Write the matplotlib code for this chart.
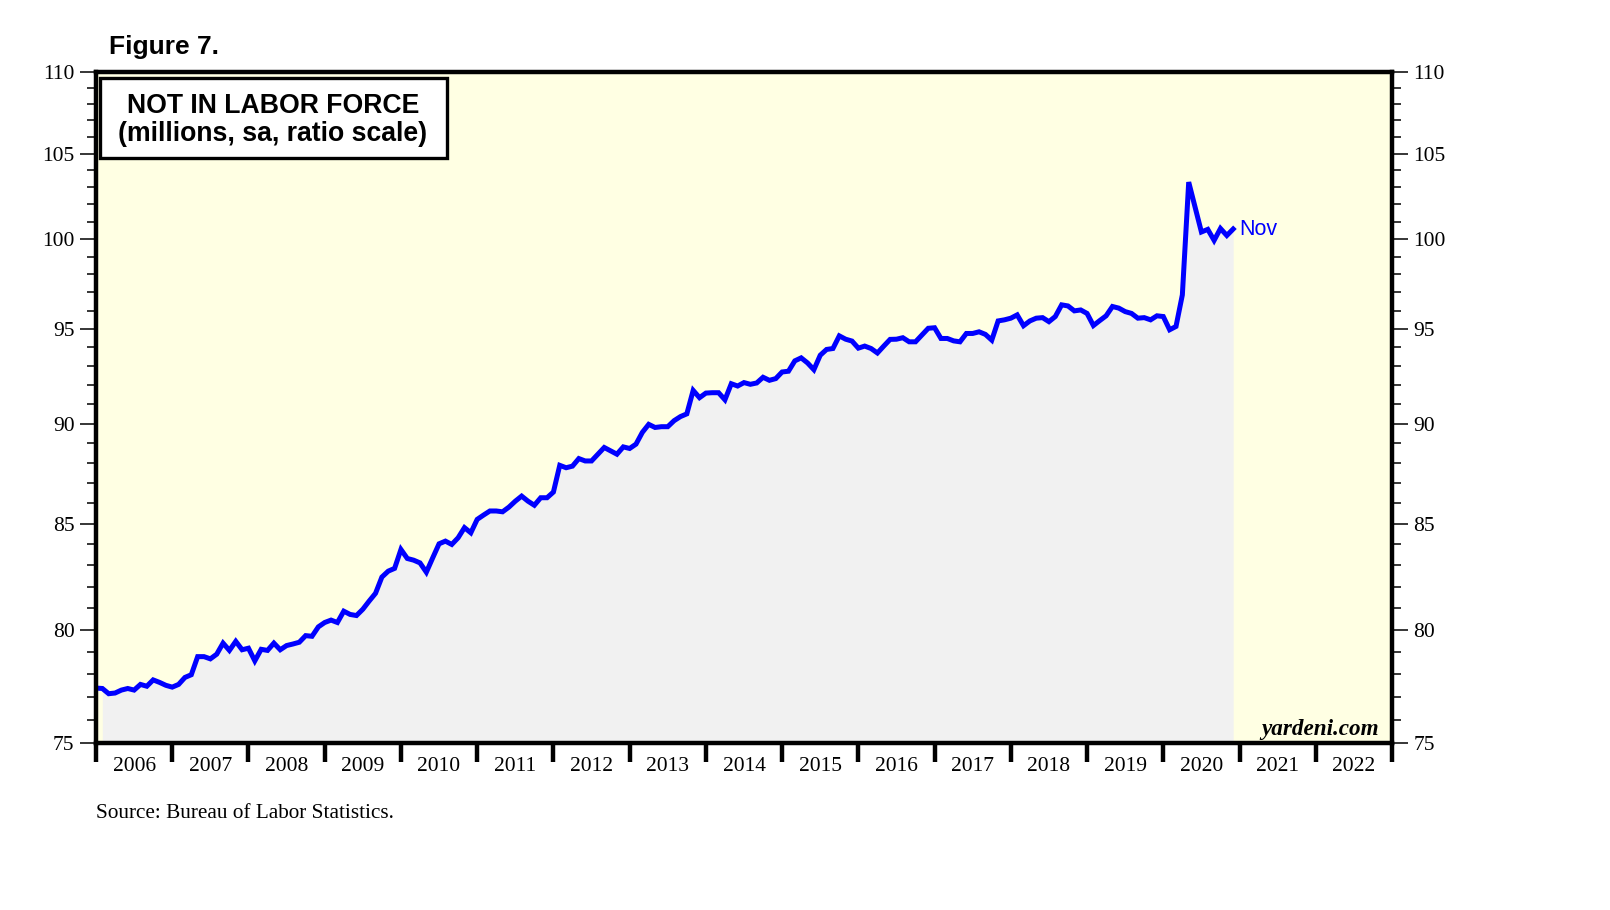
import numpy as np
import matplotlib
matplotlib.use("Agg")
import matplotlib.pyplot as plt
from matplotlib.patches import Rectangle
from matplotlib.ticker import FixedLocator, NullFormatter, FixedFormatter

# monthly, Dec 2005 .. Nov 2020, millions
nilf = [
    77.39,
    77.37, 77.14, 77.17, 77.30, 77.37, 77.30, 77.55, 77.47, 77.75, 77.64, 77.51, 77.43,  # 2006
    77.55, 77.86, 77.98, 78.79, 78.79, 78.69, 78.90, 79.40, 79.07, 79.48, 79.10, 79.17,  # 2007
    78.60, 79.12, 79.07, 79.40, 79.10, 79.29, 79.36, 79.44, 79.74, 79.71, 80.14, 80.34,  # 2008
    80.45, 80.34, 80.86, 80.71, 80.66, 80.95, 81.33, 81.69, 82.45, 82.73, 82.86, 83.76,  # 2009
    83.33, 83.25, 83.12, 82.68, 83.36, 84.03, 84.16, 84.00, 84.32, 84.81, 84.56, 85.21,  # 2010
    85.42, 85.62, 85.62, 85.58, 85.81, 86.10, 86.35, 86.10, 85.90, 86.27, 86.27, 86.55,  # 2011
    87.88, 87.76, 87.84, 88.22, 88.10, 88.10, 88.44, 88.78, 88.61, 88.44, 88.81, 88.73,  # 2012
    88.95, 89.55, 89.96, 89.80, 89.84, 89.84, 90.15, 90.36, 90.50, 91.72, 91.34, 91.58,  # 2013
    91.60, 91.60, 91.23, 92.07, 91.95, 92.13, 92.04, 92.11, 92.41, 92.25, 92.34, 92.69,  # 2014
    92.73, 93.28, 93.44, 93.17, 92.81, 93.58, 93.89, 93.94, 94.62, 94.44, 94.34, 93.96,  # 2015
    94.07, 93.94, 93.70, 94.07, 94.43, 94.44, 94.52, 94.30, 94.30, 94.66, 95.03, 95.06,  # 2016
    94.48, 94.48, 94.35, 94.30, 94.75, 94.75, 94.84, 94.70, 94.39, 95.43, 95.49, 95.58,  # 2017
    95.76, 95.17, 95.43, 95.58, 95.61, 95.39, 95.67, 96.31, 96.25, 95.98, 96.03, 95.84,  # 2018
    95.18, 95.45, 95.71, 96.22, 96.13, 95.94, 95.84, 95.58, 95.61, 95.49, 95.71, 95.67,  # 2019
    94.95, 95.13, 96.86, 103.30, 101.85, 100.40, 100.55, 99.92, 100.60, 100.20, 100.57,  # 2020
]
start_year = 2006
years = list(range(2006, 2023))
y_major = [75, 80, 85, 90, 95, 100, 105, 110]
y_minor = list(range(75, 111))

x = start_year + np.arange(len(nilf)) / 12.0
vals = np.array(nilf)

serif = ['Liberation Serif', 'DejaVu Serif']
sans = ['Liberation Sans', 'DejaVu Sans']
W, H = 1610, 910


def fx(px):
    return px / W


def fy(py):
    return 1 - py / H


fig = plt.figure(figsize=(16.1, 9.1), dpi=100)
ax = fig.add_axes([fx(96), fy(743), (1392 - 96) / W, (743 - 72) / H])
ax.set_facecolor('#FFFFE3')

ax.set_yscale('log')
ax.set_ylim(75, 110)
ax.set_xlim(2006, 2023)

ax.fill_between(x[1:], vals[1:], 75, color='#F1F1F1', linewidth=0, zorder=1)
ax.plot(x, vals, color='#0000FF', linewidth=3.6, solid_joinstyle='miter', zorder=3)
ax.text(x[-1] + 0.08, vals[-1], 'Nov', color='#0000FF', fontsize=15.5,
        family=sans, va='center', ha='left')

# y axis: both sides, ratio scale
ax.yaxis.set_major_locator(FixedLocator(y_major))
ax.yaxis.set_minor_locator(FixedLocator([v for v in y_minor if v not in y_major]))
ax.yaxis.set_major_formatter(FixedFormatter([str(v) for v in y_major]))
ax.yaxis.set_minor_formatter(NullFormatter())
ax.tick_params(axis='y', which='major', direction='out', length=11.5, width=1.1,
               left=True, right=True, labelleft=True, labelright=True, pad=4, labelsize=15.5)
ax.tick_params(axis='y', which='minor', direction='out', length=6.5, width=1.1,
               left=True, right=True)

# x axis: year boundaries as thick ticks, labels centred in between
ax.xaxis.set_major_locator(FixedLocator(years + [2023]))
ax.xaxis.set_major_formatter(NullFormatter())
ax.xaxis.set_minor_locator(FixedLocator([yr + 0.5 for yr in years]))
ax.xaxis.set_minor_formatter(FixedFormatter([str(yr) for yr in years]))
ax.tick_params(axis='x', which='major', direction='out', length=14, width=3.2)
ax.tick_params(axis='x', which='minor', length=0, pad=10, labelsize=15.5)

for lab in ax.get_xticklabels(minor=True) + ax.yaxis.get_majorticklabels():
    lab.set_family(serif)

for sp in ax.spines.values():
    sp.set_linewidth(3.2)
    sp.set_zorder(5)

# title box
fig.patches.append(Rectangle((fx(100), fy(158)), (447 - 100) / W, (158 - 78) / H,
                             transform=fig.transFigure, facecolor='white',
                             edgecolor='black', linewidth=2.4, zorder=6))
fig.text(fx(273), fy(106), 'NOT IN LABOR FORCE', ha='center', va='center',
         fontsize=19.2, fontweight='bold', family=sans, zorder=7)
fig.text(fx(273), fy(134), '(millions, sa, ratio scale)', ha='center', va='center',
         fontsize=19.2, fontweight='bold', family=sans, zorder=7)

ax.text(0.99, 0.004, 'yardeni.com', transform=ax.transAxes, ha='right', va='bottom',
        fontsize=16.7, fontweight='bold', style='italic', family=serif, zorder=6)

fig.text(fx(109), fy(47), 'Figure 7.', fontsize=19, fontweight='bold',
         family=sans, va='center', ha='left')
fig.text(fx(96), fy(814), 'Source: Bureau of Labor Statistics.', fontsize=15.3,
         family=serif, va='center', ha='left')

fig.savefig('out.png', dpi=100)
